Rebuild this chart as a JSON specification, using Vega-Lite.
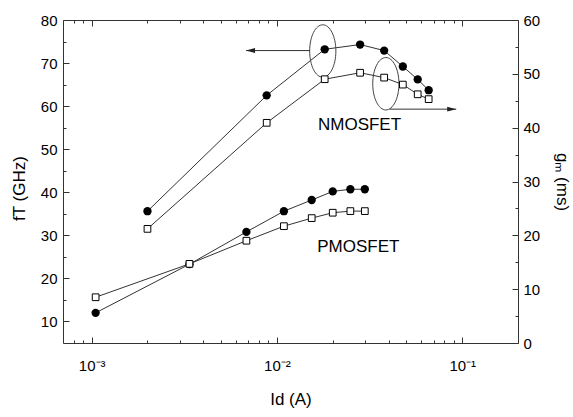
{
  "$schema": "https://vega.github.io/schema/vega-lite/v6.json",
  "width": 455,
  "height": 323,
  "autosize": {"type": "none"},
  "padding": {"left": 63, "top": 20, "right": 55, "bottom": 74},
  "background": "white",
  "config": {
    "view": {"stroke": null},
    "font": "Liberation Sans",
    "axis": {
      "domainColor": "#333",
      "tickColor": "#333",
      "labelColor": "black",
      "titleColor": "black",
      "grid": false,
      "labelFontSize": 15,
      "titleFontSize": 17,
      "titleFontWeight": "normal",
      "labelFont": "Liberation Sans",
      "titleFont": "Liberation Sans",
      "labelOverlap": false,
      "labelFlush": false
    }
  },
  "resolve": {"scale": {"y": "independent"}, "axis": {"x": "independent", "y": "independent"}},
  "layer": [
    {
      "encoding": {
        "x": {
          "field": "Id",
          "type": "quantitative",
          "scale": {"type": "log", "domain": [0.0007, 0.2]},
          "axis": {
            "orient": "bottom",
            "values": [0.0008, 0.0009, 0.001, 0.002, 0.003, 0.004, 0.005, 0.006, 0.007, 0.008, 0.009, 0.01, 0.02, 0.03, 0.04, 0.05, 0.06, 0.07, 0.08, 0.09, 0.1],
            "labelExpr": "datum.value == 0.001 ? '10⁻³' : datum.value == 0.01 ? '10⁻²' : datum.value == 0.1 ? '10⁻¹' : ''",
            "tickSize": {"condition": {"test": "datum.value == 0.001 || datum.value == 0.01 || datum.value == 0.1", "value": -6}, "value": -3},
            "labelPadding": 21,
            "title": "Id (A)",
            "titlePadding": 15
          }
        },
        "y": {
          "field": "fT",
          "type": "quantitative",
          "scale": {"domain": [5, 80]},
          "axis": {
            "orient": "left",
            "values": [10, 15, 20, 25, 30, 35, 40, 45, 50, 55, 60, 65, 70, 75, 80],
            "labelExpr": "datum.value % 10 == 0 ? datum.label : ''",
            "tickSize": {"condition": {"test": "datum.value % 10 == 0", "value": -6}, "value": -3},
            "labelPadding": 12,
            "title": "fT (GHz)",
            "titlePadding": 12,
            "titleY": 168
          }
        }
      },
      "layer": [
        {
          "data": {"values": [
            {"dev": "N", "Id": 0.002, "fT": 35.6},
            {"dev": "N", "Id": 0.0088, "fT": 62.5},
            {"dev": "N", "Id": 0.0181, "fT": 73.2},
            {"dev": "N", "Id": 0.0281, "fT": 74.3},
            {"dev": "N", "Id": 0.0379, "fT": 72.9},
            {"dev": "N", "Id": 0.0478, "fT": 69.2},
            {"dev": "N", "Id": 0.0575, "fT": 66.2},
            {"dev": "N", "Id": 0.0659, "fT": 63.7},
            {"dev": "P", "Id": 0.00105, "fT": 12.0},
            {"dev": "P", "Id": 0.00337, "fT": 23.3},
            {"dev": "P", "Id": 0.00684, "fT": 30.8},
            {"dev": "P", "Id": 0.0109, "fT": 35.6},
            {"dev": "P", "Id": 0.0154, "fT": 38.2},
            {"dev": "P", "Id": 0.020, "fT": 40.2},
            {"dev": "P", "Id": 0.0249, "fT": 40.7},
            {"dev": "P", "Id": 0.0298, "fT": 40.7}
          ]},
          "layer": [
            {"mark": {"type": "line", "color": "#333", "strokeWidth": 1}, "encoding": {"detail": {"field": "dev"}}},
            {"mark": {"type": "point", "shape": "circle", "filled": true, "color": "black", "size": 69, "opacity": 1}}
          ]
        },
        {
          "data": {"values": [
            {"Id": 0.01767, "fT": 72.8},
            {"Id": 0.0387, "fT": 65.2}
          ]},
          "mark": {"type": "point", "shape": "M0,-1A0.5,1 0 1,1 0,1A0.5,1 0 1,1 0,-1Z", "size": 2750, "filled": false, "stroke": "#444", "strokeWidth": 1, "opacity": 1}
        },
        {
          "data": {"values": [
            {"Id": 0.00681, "Id2": 0.01504, "fT": 72.9},
            {"Id": 0.0405, "Id2": 0.0928, "fT": 59.3}
          ]},
          "mark": {"type": "rule", "color": "#333", "strokeWidth": 1},
          "encoding": {"x2": {"field": "Id2"}}
        },
        {
          "data": {"values": [
            {"Id": 0.00681, "fT": 72.9, "dir": "left"},
            {"Id": 0.0928, "fT": 59.3, "dir": "right"}
          ]},
          "mark": {"type": "point", "filled": true, "color": "#222", "size": 81, "opacity": 1},
          "encoding": {"shape": {"field": "dir", "type": "nominal", "scale": {"domain": ["left", "right"], "range": ["M0,0L2,-0.55L2,0.55Z", "M0,0L-2,-0.55L-2,0.55Z"]}, "legend": null}}
        },
        {
          "data": {"values": [
            {"Id": 0.0279, "fT": 55.6, "label": "NMOSFET"},
            {"Id": 0.0275, "fT": 27.3, "label": "PMOSFET"}
          ]},
          "mark": {"type": "text", "fontSize": 17, "font": "Liberation Sans", "color": "black", "align": "center", "baseline": "middle"},
          "encoding": {"text": {"field": "label"}}
        }
      ]
    },
    {
      "data": {"values": [
        {"dev": "N", "Id": 0.002, "gm": 21.2},
        {"dev": "N", "Id": 0.0088, "gm": 40.9},
        {"dev": "N", "Id": 0.0181, "gm": 49.0},
        {"dev": "N", "Id": 0.0281, "gm": 50.2},
        {"dev": "N", "Id": 0.0379, "gm": 49.3},
        {"dev": "N", "Id": 0.0478, "gm": 48.0},
        {"dev": "N", "Id": 0.0575, "gm": 46.2},
        {"dev": "N", "Id": 0.0659, "gm": 45.3},
        {"dev": "P", "Id": 0.00105, "gm": 8.5},
        {"dev": "P", "Id": 0.00337, "gm": 14.7},
        {"dev": "P", "Id": 0.00684, "gm": 19.0},
        {"dev": "P", "Id": 0.0109, "gm": 21.7},
        {"dev": "P", "Id": 0.0154, "gm": 23.2},
        {"dev": "P", "Id": 0.020, "gm": 24.2},
        {"dev": "P", "Id": 0.0249, "gm": 24.5},
        {"dev": "P", "Id": 0.0298, "gm": 24.5}
      ]},
      "encoding": {
        "x": {
          "field": "Id",
          "type": "quantitative",
          "scale": {"type": "log", "domain": [0.0007, 0.2]},
          "axis": {
            "orient": "top",
            "values": [0.0008, 0.0009, 0.001, 0.002, 0.003, 0.004, 0.005, 0.006, 0.007, 0.008, 0.009, 0.01, 0.02, 0.03, 0.04, 0.05, 0.06, 0.07, 0.08, 0.09, 0.1],
            "labels": false,
            "tickSize": {"condition": {"test": "datum.value == 0.001 || datum.value == 0.01 || datum.value == 0.1", "value": -6}, "value": -3},
            "title": null
          }
        },
        "y": {
          "field": "gm",
          "type": "quantitative",
          "scale": {"domain": [0, 60]},
          "axis": {
            "orient": "right",
            "values": [0, 5, 10, 15, 20, 25, 30, 35, 40, 45, 50, 55, 60],
            "labelExpr": "datum.value % 10 == 0 ? datum.label : ''",
            "tickSize": {"condition": {"test": "datum.value % 10 == 0", "value": -6}, "value": -3},
            "labelPadding": 11,
            "title": "gₘ (ms)",
            "titlePadding": 13
          }
        }
      },
      "layer": [
        {"mark": {"type": "line", "color": "#333", "strokeWidth": 1}, "encoding": {"detail": {"field": "dev"}}},
        {"mark": {"type": "point", "shape": "square", "filled": true, "fill": "white", "stroke": "black", "strokeWidth": 1, "size": 45, "opacity": 1}}
      ]
    }
  ]
}
